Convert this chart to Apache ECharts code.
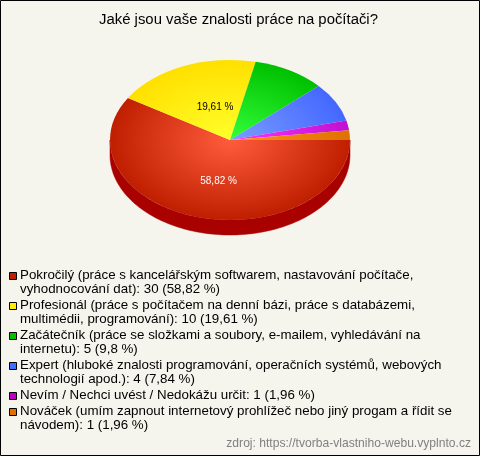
<!DOCTYPE html>
<html><head><meta charset="utf-8">
<style>html,body{margin:0;padding:0;background:#f5f5ee}#c{width:480px;height:456px}</style>
<script src="https://cdn.jsdelivr.net/npm/echarts@6/dist/echarts.min.js"></script>
</head><body><div id="c"></div>
<script>
const categories = ['Pokročilý','Profesionál','Začátečník','Expert','Nevím / Nechci uvést / Nedokážu určit','Nováček'];
const values = [30,10,5,4,1,1];
const sliceLabels = ['58,82 %','19,61 %','','','',''];
const legendLines = [
 ['Pokročilý (práce s kancelářským softwarem, nastavování počítače,','vyhodnocování dat): 30 (58,82 %)'],
 ['Profesionál (práce s počítačem na denní bázi, práce s databázemi,','multimédii, programování): 10 (19,61 %)'],
 ['Začátečník (práce se složkami a soubory, e-mailem, vyhledávání na','internetu): 5 (9,8 %)'],
 ['Expert (hluboké znalosti programování, operačních systémů, webových','technologií apod.): 4 (7,84 %)'],
 ['Nevím / Nechci uvést / Nedokážu určit: 1 (1,96 %)'],
 ['Nováček (umím zapnout internetový prohlížeč nebo jiný progam a řídit se','návodem): 1 (1,96 %)']
];
const innerColors = ['#ff5c3c','#ffff2a','#33ff3a','#7a9cff','#ff33ff','#ff8f1f'];
const outerColors = ['#bf1f00','#ffe000','#00c000','#4468ff','#c010d0','#e07000'];
const swatchColors = ['#c02000','#ffee00','#00c000','#4070ff','#c000c0','#e07000'];
const sideColor = '#a90000';
const labelColors = ['#ffffff','#000000'];
const FONT = 'Arial, "Liberation Sans", sans-serif';
const CX=230, CY=140, RX=120, RY=80, DEPTH=15;
const labelShift = [[5,2.5],[8.4,3.8]];
const total = values.reduce((a,b)=>a+b,0);
const sum = i => values.slice(0,i).reduce((a,b)=>a+b,0);
const startOf = i => sum(i)/total*Math.PI*2;
const endOf = i => sum(i+1)/total*Math.PI*2;

function sideItem(params){
  const i=params.dataIndex, a=startOf(i), b=Math.min(endOf(i),Math.PI);
  if(a>=Math.PI) return {type:'group',children:[]};
  const top=[],bot=[];
  for(let k=0;k<=120;k++){
    const t=a+(b-a)*k/120;
    const x=CX+RX*Math.cos(t), y=CY+RY*Math.sin(t);
    top.push([x,y]); bot.unshift([x,y+DEPTH]);
  }
  return {type:'polygon',shape:{points:top.concat(bot)},style:{fill:sideColor,stroke:sideColor,lineWidth:0.5}};
}
function topItem(params){
  const i=params.dataIndex;
  return {type:'group',x:CX,y:CY,scaleY:RY/RX,children:[{
    type:'sector',
    shape:{cx:0,cy:0,r0:0,r:RX,startAngle:startOf(i),endAngle:endOf(i),clockwise:true},
    style:{fill:{type:'radial',x:0,y:0,r:RX,global:true,colorStops:[
      {offset:0,color:innerColors[i]},{offset:1,color:outerColors[i]}]}}
  }]};
}
function labelItem(params){
  const i=params.dataIndex;
  if(!sliceLabels[i]) return {type:'group',children:[]};
  const m=(startOf(i)+endOf(i))/2;
  return {type:'text',x:CX+RX*0.5*Math.cos(m)+labelShift[i][0],y:CY+RY*0.5*Math.sin(m)+labelShift[i][1],
    style:{text:sliceLabels[i],fill:labelColors[i],font:'10px '+FONT,align:'center',verticalAlign:'middle'}};
}
const legendGraphics=[];
let y=268.5;
legendLines.forEach((lines,i)=>{
  legendGraphics.push({type:'rect',shape:{x:9.5,y:Math.round(y+3)+0.5,width:7,height:7},
    style:{fill:swatchColors[i],stroke:'#000',lineWidth:1}});
  lines.forEach((t,j)=>legendGraphics.push({type:'text',x:20,y:y+j*14.5,
    style:{text:t,font:'13.33px '+FONT,fill:'#000',verticalAlign:'top'}}));
  y+=lines.length>1?30:16;
});
const chart=echarts.init(document.getElementById('c'),null,{renderer:'canvas'});
const d=values.map((v,i)=>({name:categories[i],value:v}));
chart.setOption({
  animation:false,
  backgroundColor:'#f5f5ee',
  title:{text:'Jaké jsou vaše znalosti práce na počítači?',left:94,top:7.5,
    textStyle:{fontFamily:FONT,fontSize:14.9,fontWeight:'normal',color:'#000'}},
  series:[
    {type:'custom',coordinateSystem:'none',data:d,renderItem:sideItem,z:1,silent:true},
    {type:'custom',coordinateSystem:'none',data:d,renderItem:topItem,z:2,silent:true},
    {type:'custom',coordinateSystem:'none',data:d,renderItem:labelItem,z:3,silent:true}
  ],
  graphic:[
    {type:'rect',shape:{x:0.5,y:0.5,width:479,height:455},style:{fill:'none',stroke:'#000',lineWidth:1},z:10},
    ...legendGraphics,
    {type:'text',right:9,top:438,style:{text:'zdroj: https://tvorba-vlastniho-webu.vyplnto.cz',font:'12.1px '+FONT,fill:'#808080'}}
  ]
});
</script></body></html>
